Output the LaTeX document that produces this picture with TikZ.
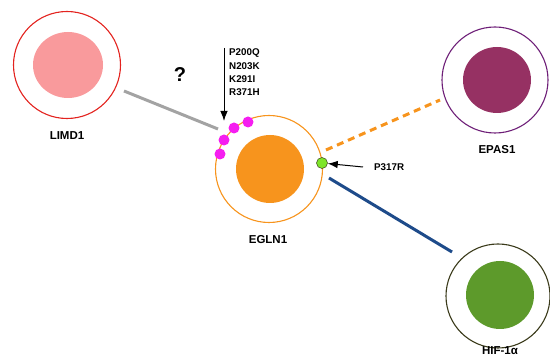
\documentclass[tikz,border=0pt]{standalone}
\usepackage{fontspec}
\setmainfont{Liberation Sans}
\usetikzlibrary{arrows.meta}
\definecolor{limdout}{HTML}{E3231F}
\definecolor{limdin}{HTML}{F99A9C}
\definecolor{epasout}{HTML}{6E1F78}
\definecolor{epasin}{HTML}{963163}
\definecolor{eglnout}{HTML}{F7941D}
\definecolor{eglnin}{HTML}{F7941D}
\definecolor{hifout}{HTML}{3B3B1B}
\definecolor{hifin}{HTML}{5D9A2B}
\definecolor{magdot}{HTML}{F51EF0}
\definecolor{grndot}{HTML}{7EE52A}
\definecolor{blueline}{HTML}{1E4B8A}
\definecolor{grayline}{HTML}{A3A3A3}
\tikzset{
  outerc/.style={circle, draw, line width=1.1pt, inner sep=0pt},
  lbl/.style={font=\fontsize{11.5}{13}\selectfont\bfseries, inner sep=0pt, anchor=base},
  mut/.style={font=\fontsize{9.8}{11}\selectfont\bfseries, inner sep=0pt, anchor=west},
  mdot/.style={circle, fill=magdot, minimum size=11pt, inner sep=0pt},
}
\begin{document}
\begin{tikzpicture}[x=1pt,y=-1pt]
\useasboundingbox (0,0) rectangle (550,363);
% circles
\node[outerc, draw=limdout, minimum size=107pt] (limd) at (67,65) {};
\fill[limdin] (68,65) ellipse [x radius=35, y radius=33];
\node[lbl] (limdl) at (67,140) {LIMD1};

\node[outerc, draw=epasout, minimum size=106pt] (epas) at (495,80) {};
\fill[epasin] (497,80) ellipse [x radius=34, y radius=33];
\node[lbl] (epasl) at (497,154) {EPAS1};

\node[outerc, draw=eglnout, minimum size=107pt] (egln) at (269,169) {};
\fill[eglnin] (270,169) ellipse [x radius=34, y radius=34];
\node[lbl] (eglnl) at (268,244) {EGLN1};

\node[outerc, draw=hifout, minimum size=104pt] (hif) at (498,296) {};
\fill[hifin] (500,295) ellipse [x radius=34, y radius=34];
\node[lbl] (hifl) at (500,355) {HIF-1α};

% connectors
\coordinate (g1) at (124,91);
\coordinate (g2) at (218,129);
\draw[grayline, line width=3pt] (g1) -- (g2);
\coordinate (o1) at (326,150);
\coordinate (o2) at (440,100);
\draw[eglnout, line width=3pt, dash pattern=on 7pt off 5pt] (o1) -- (o2);
\coordinate (b1) at (329,178);
\coordinate (b2) at (452,252);
\draw[blueline, line width=3pt] (b1) -- (b2);

% mutation dots
\node[mdot] (m1) at (248,122) {};
\node[mdot] (m2) at (234,128) {};
\node[mdot] (m3) at (224,140) {};
\node[mdot] (m4) at (220,154) {};
\node[circle, fill=grndot, draw=hifout, line width=0.5pt, minimum size=11pt, inner sep=0pt] (gdot) at (322,163) {};

% arrows
\coordinate (a1) at (224,48);
\coordinate (a2) at (224,121);
\draw[line width=1pt, -{Latex[length=10pt,width=7.5pt]}] (a1) -- (a2);
\node[mut] (t1) at (229,53) {P200Q};
\node[mut] (t2) at (229,66) {N203K};
\node[mut] (t3) at (229,79) {K291I};
\node[mut] (t4) at (229,92) {R371H};

\coordinate (p1) at (363,167);
\draw[line width=1pt, -{Latex[length=10pt,width=7.5pt]}] (p1) -- (gdot);
\node[mut] (t5) at (374,167) {P317R};

\node[font=\fontsize{20}{22}\selectfont\bfseries] (q) at (180,75) {?};
\end{tikzpicture}
\end{document}
